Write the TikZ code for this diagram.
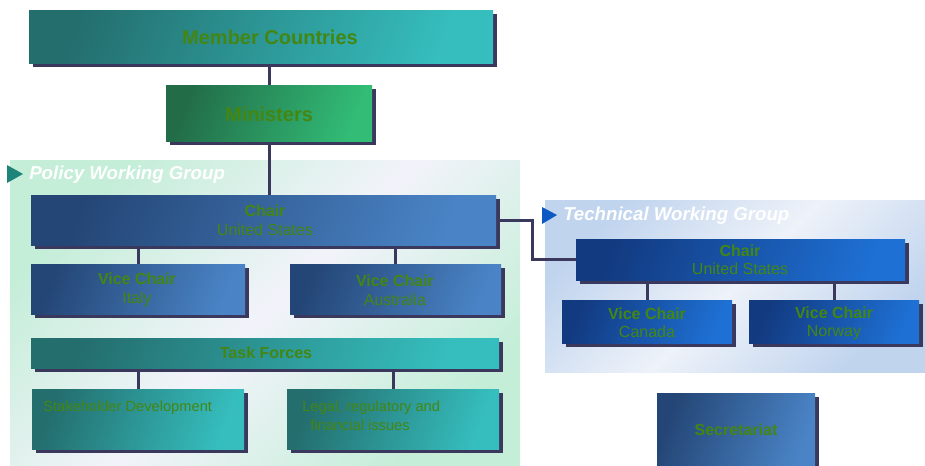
\documentclass[tikz,border=0pt]{standalone}
\usepackage{fontspec}
\setmainfont{Liberation Sans}
\usetikzlibrary{fit,shadows}
\definecolor{shadowc}{RGB}{58,56,92}
\definecolor{tgreen}{RGB}{68,134,18}
\definecolor{tealA}{RGB}{36,110,110}
\definecolor{tealB}{RGB}{54,190,190}
\definecolor{minA}{RGB}{34,108,72}
\definecolor{minB}{RGB}{50,188,118}
\definecolor{pblueA}{RGB}{36,70,118}
\definecolor{pblueB}{RGB}{74,132,198}
\definecolor{tblueA}{RGB}{18,58,128}
\definecolor{tblueB}{RGB}{30,112,212}
\definecolor{pgreen}{RGB}{196,238,216}
\definecolor{plav}{RGB}{242,243,250}
\definecolor{tblueL}{RGB}{192,212,238}
\definecolor{twhite}{RGB}{238,242,249}
\definecolor{triteal}{RGB}{30,132,122}
\definecolor{triblue}{RGB}{14,88,196}
\pgfdeclarelayer{panel}
\pgfdeclarelayer{wires}
\pgfsetlayers{panel,wires,main}
\begin{document}
\begin{tikzpicture}[x=0.75pt,y=-0.75pt,
  box/.style={inner sep=0pt, outer sep=0pt,
    drop shadow={shadow xshift=3pt, shadow yshift=-3pt, fill=shadowc, opacity=1}},
  boxshade/.style 2 args={left color=#1, right color=#2, shading angle=70},
  bigtext/.style={font=\bfseries\fontsize{15}{18}\selectfont},
  lbl/.style={inner sep=0pt, text=tgreen, align=center, font=\fontsize{12}{14.4}\selectfont},
  tlbl/.style={lbl, font=\fontsize{12}{13.5}\selectfont},
  small/.style={inner sep=0pt, text=tgreen, anchor=west, font=\fontsize{11}{13}\selectfont},
  title/.style={inner sep=0pt, anchor=west, text=white, font=\bfseries\itshape\fontsize{14}{17}\selectfont},
  panel/.style 2 args={inner sep=0pt, outer sep=0pt, top color=#1, bottom color=#1, middle color=#2, shading angle=45},
  wire/.style={draw=shadowc, line width=2.25pt}]
\useasboundingbox (0,0) rectangle (925,465);

% panels
\begin{pgfonlayer}{panel}
\node[panel={pgreen}{plav}, fit={(10,160)(520,465)}] (pwg) {};
\node[panel={tblueL}{twhite}, fit={(545,200)(925,372)}] (twg) {};
\fill[triteal] (7,165) -- (23,174) -- (7,183) -- cycle;
\fill[triblue] (542,207) -- (557,215) -- (542,224) -- cycle;
\end{pgfonlayer}
\node[title] (pwgt) at (29,175) {Policy Working Group};
\node[title] (twgt) at (563,216) {Technical Working Group};

% boxes
\node[box, boxshade={tealA}{tealB}, fit={(29,10)(493,63)}] (mc) {};
\node[lbl, bigtext] (mct) at (270,37) {Member Countries};
\node[box, boxshade={minA}{minB}, fit={(166,85)(372,141)}] (mi) {};
\node[lbl, bigtext] (mit) at (269,114) {Ministers};

\node[box, boxshade={pblueA}{pblueB}, fit={(31,195)(496,245)}] (pc) {};
\node[lbl] (pct) at (265,220) {\textbf{Chair}\\United States};
\node[box, boxshade={pblueA}{pblueB}, fit={(31,264)(245,314)}] (it) {};
\node[lbl] (itt) at (137,290) {\textbf{Vice Chair}\\Italy};
\node[box, boxshade={pblueA}{pblueB}, fit={(290,264)(501,314)}] (au) {};
\node[lbl] (aut) at (395,290) {\textbf{Vice Chair}\\Australia};

\node[box, boxshade={tealA}{tealB}, fit={(31,338)(499,368)}] (tf) {};
\node[lbl] (tft) at (266,353) {\textbf{Task Forces}};
\node[box, boxshade={tealA}{tealB}, fit={(32,389)(244,449)}] (sd) {};
\node[small] (sdt) at (43,408) {Stakeholder Development};
\node[box, boxshade={tealA}{tealB}, fit={(287,389)(499,449)}] (lg) {};
\node[small] (lgt1) at (302,408) {Legal, regulatory and};
\node[small] (lgt2) at (310,425) {financial issues};

\node[box, boxshade={tblueA}{tblueB}, fit={(576,239)(905,280)}] (tc) {};
\node[tlbl] (tct) at (740,260) {\textbf{Chair}\\United States};
\node[box, boxshade={tblueA}{tblueB}, fit={(562,300)(732,343)}] (ca) {};
\node[tlbl] (cat) at (647,323) {\textbf{Vice Chair}\\Canada};
\node[box, boxshade={tblueA}{tblueB}, fit={(749,300)(919,343)}] (no) {};
\node[tlbl] (not) at (834,323) {\textbf{Vice Chair}\\Norway};

\node[box, boxshade={pblueA}{pblueB}, fit={(657,393)(815,470)}] (se) {};
\node[lbl, font=\bfseries\fontsize{12}{14.4}\selectfont] (set) at (736,430) {Secretariat};

% connectors
\coordinate (elb) at (532,222);
\begin{pgfonlayer}{wires}
\draw[wire] (mi.north |- mc.south) -- (mi.north);
\draw[wire] (mi.south) -- (mi.south |- pc.north);
\draw[wire] (it.north |- pc.south) -- (it.north);
\draw[wire] (au.north |- pc.south) -- (au.north);
\draw[wire] (sd.north |- tf.south) -- (sd.north);
\draw[wire] (lg.north |- tf.south) -- (lg.north);
\draw[wire] (pc.east) -- (pc.east -| elb) |- (tc.west);
\draw[wire] (ca.north |- tc.south) -- (ca.north);
\draw[wire] (no.north |- tc.south) -- (no.north);
\end{pgfonlayer}
\end{tikzpicture}
\end{document}
